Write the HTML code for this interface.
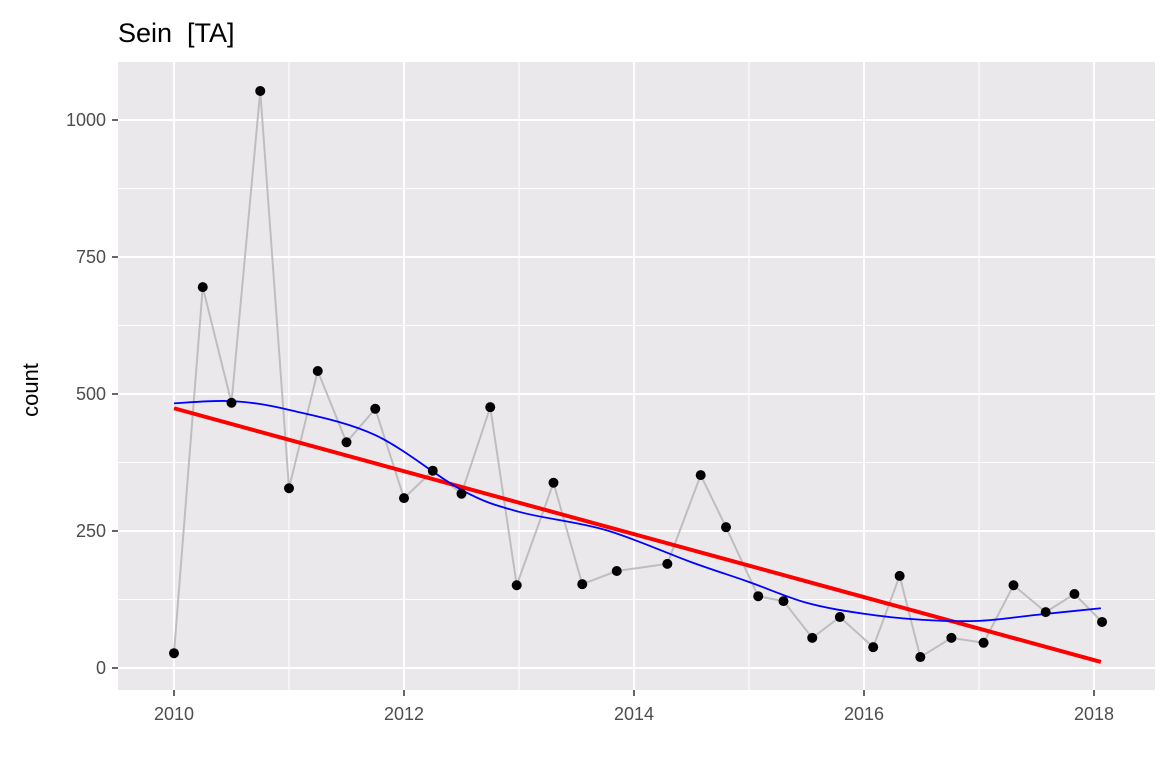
<!DOCTYPE html>
<html><head><meta charset="utf-8"><style>
body{margin:0;background:#fff;}
svg{display:block;font-family:"Liberation Sans",Arial,sans-serif;}
</style></head><body>
<svg id="chart" width="1170" height="780" xmlns="http://www.w3.org/2000/svg">
<text x="118" y="42" font-size="27" fill="#000" style="white-space:pre" xml:space="preserve">Sein  [TA]</text>
<rect x="118" y="62" width="1037" height="628" fill="#EBE8EC"/>
<g id="grid"></g>
<g id="axes"></g>
<text transform="translate(38,390) rotate(-90)" text-anchor="middle" font-size="22" fill="#000">count</text>
<g id="marks"></g>
</svg>
<script>
const xs=[2010.0,2010.25,2010.5,2010.75,2011.0,2011.25,2011.5,2011.75,2012.0,2012.25,2012.5,2012.75,2012.98,2013.3,2013.55,2013.85,2014.29,2014.58,2014.8,2015.08,2015.3,2015.55,2015.79,2016.08,2016.31,2016.49,2016.76,2017.04,2017.3,2017.58,2017.83,2018.07];
const counts=[27,695,484,1053,328,542,412,473,310,360,318,476,151,338,153,177,190,352,257,131,122,55,93,38,168,20,55,46,151,102,135,84];
const loessX=[2010,2010.5,2011,2011.75,2012.5,2013,2013.75,2014.5,2015,2015.5,2016,2016.5,2017,2017.5,2018.06];
const loessY=[483,487,471,425,325,285,252,193,157,119,99,88,86,97,109];
const trendX=[2010,2018.06];
const trendY=[474,11];
const xTicks=[2010,2012,2014,2016,2018];
const yTicks=[0,250,500,750,1000];
const NS="http://www.w3.org/2000/svg";
const X=v=>174+(v-2010)*115;
const Y=v=>668-v*0.548;
function mk(tag,attrs,parent){const e=document.createElementNS(NS,tag);for(const k in attrs)e.setAttribute(k,attrs[k]);document.getElementById(parent).appendChild(e);return e;}
for(let i=0;i<yTicks.length;i++){const v=yTicks[i]+125;const e=mk('line',{x1:118,x2:1155,y1:Y(v),y2:Y(v),stroke:'#fff','stroke-width':1},'grid');

}
for(let i=0;i<xTicks.length-1;i++){const v=xTicks[i]+1;const e=mk('line',{x1:X(v),x2:X(v),y1:62,y2:690,stroke:'#fff','stroke-width':1},'grid');

}
yTicks.forEach(v=>{const e=mk('line',{x1:118,x2:1155,y1:Y(v),y2:Y(v),stroke:'#fff','stroke-width':2},'grid');


const t=mk('line',{x1:112,x2:118,y1:Y(v),y2:Y(v),stroke:'#333','stroke-width':1.5},'axes');


const l=mk('text',{x:106,y:Y(v)+6,'text-anchor':'end','font-size':18,fill:'#4d4d4d'},'axes');l.textContent=v;

});
xTicks.forEach(v=>{const e=mk('line',{x1:X(v),x2:X(v),y1:62,y2:690,stroke:'#fff','stroke-width':2},'grid');


const t=mk('line',{x1:X(v),x2:X(v),y1:690,y2:696,stroke:'#333','stroke-width':1.5},'axes');


const l=mk('text',{x:X(v),y:720,'text-anchor':'middle','font-size':18,fill:'#4d4d4d'},'axes');l.textContent=v;

});
const pl=mk('polyline',{points:xs.map((x,i)=>X(x)+','+Y(counts[i])).join(' '),fill:'none',stroke:'#bebebe','stroke-width':2},'marks');


const tr=mk('polyline',{points:trendX.map((x,i)=>X(x)+','+Y(trendY[i])).join(' '),fill:'none',stroke:'#ff0000','stroke-width':4},'marks');


let d='M'+X(loessX[0])+','+Y(loessY[0]);
for(let i=0;i<loessX.length-1;i++){const p0=i>0?i-1:i,p3=i+2<loessX.length?i+2:i+1;
const ax=X(loessX[i])+(X(loessX[i+1])-X(loessX[p0]))/6,ay=Y(loessY[i])+(Y(loessY[i+1])-Y(loessY[p0]))/6;
const bx=X(loessX[i+1])-(X(loessX[p3])-X(loessX[i]))/6,by=Y(loessY[i+1])-(Y(loessY[p3])-Y(loessY[i]))/6;
d+=` C${ax},${ay} ${bx},${by} ${X(loessX[i+1])},${Y(loessY[i+1])}`;}
const lo=mk('path',{d:d,fill:'none',stroke:'#0000ff','stroke-width':1.8},'marks');


xs.forEach((x,i)=>{const c=mk('circle',{cx:X(x),cy:Y(counts[i]),r:5,fill:'#000'},'marks');

});
</script>
</body></html>
